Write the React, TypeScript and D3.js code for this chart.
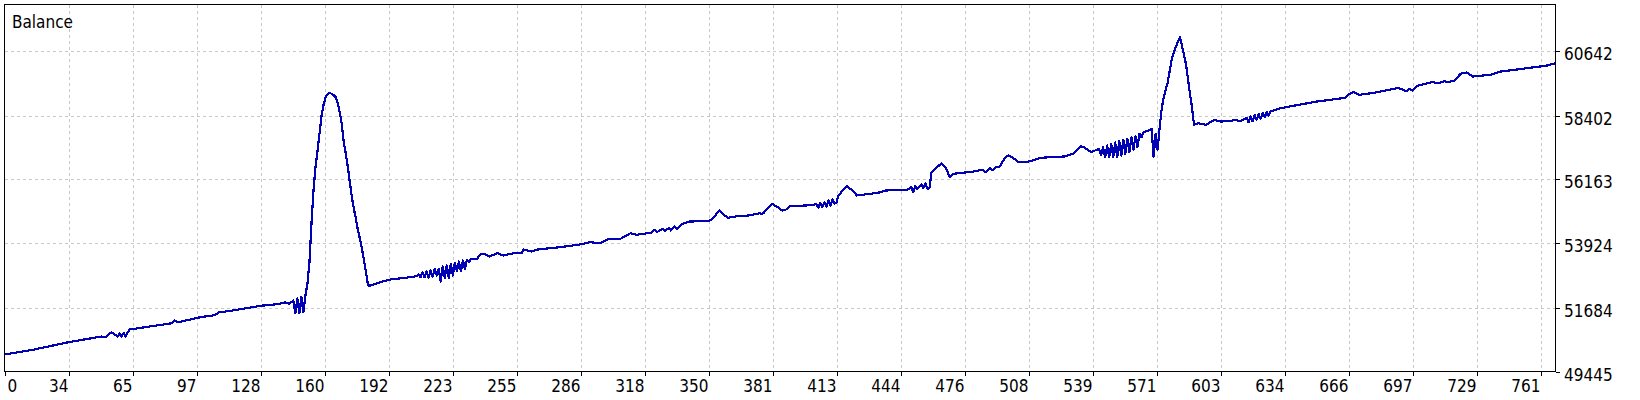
import React from 'react';
import * as d3 from 'd3';

// balance curve: trade number -> balance
const trades = [
  0, 14, 31, 48, 50, 53, 56, 57, 58, 59, 60, 61, 62, 72, 83, 84, 86, 97, 104, 106, 113, 127, 135,
  137, 139, 141, 143, 144, 145, 146, 147, 148, 149,
  150, 151, 152, 153, 154, 155, 156, 157, 158, 159, 160, 161, 162, 163, 164, 165, 166, 167, 168, 169,
  170, 171, 172, 173, 174, 175, 176, 177, 178, 179, 180, 181, 186, 191, 201, 204,
  205, 206, 207, 208, 209, 210, 211, 212, 213, 214, 215, 216, 217, 218, 219, 220, 221, 222, 223, 224,
  225, 226, 227, 228, 229, 230, 231, 234, 236, 238, 240, 244, 247, 252, 256, 257, 261, 264, 275, 285,
  290, 295, 299, 305, 308, 310, 313, 320, 322, 323, 326, 327, 329, 330, 332, 333, 335, 339, 348, 350,
  354, 358, 363, 368, 374, 375, 376, 378, 380, 383, 385, 387, 389, 400, 402, 403, 404, 405, 406, 407,
  408, 409, 410, 411, 412, 413, 415, 417, 420, 422, 431, 434, 436, 447, 449, 450, 451, 452, 454, 455,
  456, 457, 458, 459, 461, 464, 466, 468, 470, 480, 484, 486, 488, 489, 491, 493, 495, 497, 499, 502,
  505, 508, 513, 518, 525, 529, 531, 533, 535, 538, 540, 542, 543, 544, 545, 546, 547, 548, 549, 550,
  551, 552, 553, 554, 555, 556, 557, 558, 559, 560, 561, 562, 563, 564, 566, 568, 569, 570, 571, 572,
  573, 574, 576, 577, 578, 579, 581, 582, 583, 585, 586, 587, 588, 589, 591, 595, 599, 602, 607, 609,
  612, 615, 616, 617, 618, 619, 620, 621, 622, 623, 624, 625, 626, 627, 632, 639, 650, 664, 666, 668,
  671, 678, 688, 690, 692, 694, 696, 697, 700, 707, 710, 713, 715, 718, 721, 724, 727, 736, 741, 754,
  764, 768,
];

const balance = [
  50040, 50204, 50460, 50670, 50645, 50820, 50670, 50780, 50660, 50800, 50670, 50820, 50915, 51020, 51135, 51230, 51170, 51345, 51415, 51510, 51580, 51745, 51800,
  51830, 51860, 51815, 51930, 51485, 52000, 51485, 52045, 51520, 52105,
  52514, 53270, 54613, 55778, 56594, 57178, 57783, 58402, 58787, 59043, 59160, 59195, 59160, 59113, 59043, 58833, 58518, 58112, 57468, 57062,
  56594, 56069, 55544, 55138, 54788, 54379, 54088, 53738, 53329, 52919, 52454, 52454, 52570, 52664, 52745, 52780,
  52839, 52745, 52919, 52745, 52954, 52723, 52979, 52769, 53038, 52804, 53038, 52594, 53119, 52723, 53154, 52723, 53213, 52804, 53248, 52954,
  53294, 52954, 53329, 53038, 53353, 53270, 53375, 53390, 53563, 53539, 53469, 53584, 53504, 53584, 53584, 53714, 53644, 53714, 53794, 53889,
  53969, 53934, 54088, 54088, 54204, 54284, 54228, 54298, 54403, 54319, 54438, 54354, 54473, 54379, 54519, 54438, 54589, 54694, 54704, 54750,
  55078, 54823, 54879, 54900, 54984, 54963, 54998, 55173, 55313, 55194, 55078, 55113, 55229, 55264, 55313, 55173, 55348, 55194, 55369, 55218,
  55428, 55253, 55463, 55313, 55369, 55603, 55778, 55929, 55778, 55603, 55684, 55719, 55778, 55802, 55894, 55719, 55929, 55837, 55988, 55860,
  56034, 55837, 55860, 56419, 56538, 56734, 56594, 56244, 56363, 56443, 56502, 56419, 56572, 56478, 56594, 56618, 56887, 57003, 56943, 56769,
  56769, 56804, 56922, 56943, 56968, 57062, 57202, 57328, 57272, 57118, 57178, 57237, 57027, 57293, 56943, 57353, 56943, 57412, 56943, 57458,
  56943, 57503, 57003, 57552, 57062, 57587, 57118, 57643, 57202, 57668, 57293, 57762, 57643, 57818, 57860, 57937, 56968, 57762, 57202, 57993,
  58637, 59043, 59568, 59977, 60386, 60619, 60969, 61142, 60852, 60211, 59686, 59162, 58693, 58077, 58133, 58077, 58252, 58192, 58203, 58252,
  58203, 58322, 58168, 58367, 58203, 58427, 58252, 58462, 58287, 58497, 58343, 58518, 58402, 58553, 58658, 58752, 58892, 59022, 59162, 59218,
  59127, 59195, 59337, 59360, 59312, 59253, 59337, 59277, 59452, 59568, 59533, 59603, 59568, 59627, 59862, 59907, 59767, 59827, 59942, 60058,
  60152, 60232,
];

const xLabels = ['0', '34', '65', '97', '128', '160', '192', '223', '255', '286', '318', '350', '381', '413', '444', '476', '508', '539', '571', '603', '634', '666', '697', '729', '761'];
const yTicks = [49445, 51684, 53924, 56163, 58402, 60642];

const W = 1640;
const H = 400;
const left = 4.5;
const right = 1555.5;
const top = 4.5;
const bottom = 371.5;
const font = "Tahoma, 'DejaVu Sans Condensed', 'DejaVu Sans', sans-serif";

export default function App() {
  const x = d3.scaleLinear().domain([0, 768]).range([left, right]);
  const y = d3.scaleLinear().domain([49445, 62286]).range([bottom, top]);
  const xTick = d3.scalePoint<string>().domain(xLabels).range([x(0), x(761)]);

  const points: [number, number][] = trades.map((t, i) => [t, balance[i]]);
  const line = d3.line<[number, number]>()
    .x(d => x(d[0]))
    .y(d => y(d[1]));

  return (
    <svg width={W} height={H} style={{ position: 'absolute', left: 0, top: 0, background: '#fff' }}
      fontFamily={font} fontStretch="condensed">
      <rect x={0} y={0} width={W} height={H} fill="#fff" />

      {/* grid */}
      <g stroke="#c8c8c8" strokeDasharray="3,3" shapeRendering="crispEdges">
        {xLabels.slice(1).map(l => (
          <line key={l} x1={Math.round(xTick(l)!) + 0.5} x2={Math.round(xTick(l)!) + 0.5} y1={top} y2={bottom} />
        ))}
        {yTicks.slice(1).map(v => (
          <line key={v} x1={left} x2={right} y1={Math.round(y(v)) + 0.5} y2={Math.round(y(v)) + 0.5} />
        ))}
      </g>

      <path d={line(points) ?? ''} fill="none" stroke="#0000b4" strokeWidth={2.2}
        strokeLinejoin="round" shapeRendering="crispEdges" />

      {/* frame */}
      <rect x={left} y={top} width={right - left} height={bottom - top} fill="none" stroke="#000" shapeRendering="crispEdges" />

      {/* x axis */}
      <g fontSize={17} fill="#000">
        {xLabels.map((l, i) => {
          const px = Math.round(xTick(l)!) + 0.5;
          return (
            <g key={l}>
              <line x1={px} x2={px} y1={bottom} y2={bottom + 4} stroke="#000" shapeRendering="crispEdges" />
              <text x={i === 0 ? px + 2 : px - 1} y={392} textAnchor={i === 0 ? 'start' : 'end'}>{l}</text>
            </g>
          );
        })}
      </g>

      {/* y axis */}
      <g fontSize={17} fill="#000">
        {yTicks.map(v => {
          const py = Math.round(y(v)) + 0.5;
          return (
            <g key={v}>
              <line x1={right} x2={right + 4} y1={py} y2={py} stroke="#000" shapeRendering="crispEdges" />
              <text x={1564} y={py + 8}>{v}</text>
            </g>
          );
        })}
      </g>

      <text x={12} y={28} fontSize={17} fill="#000">Balance</text>
    </svg>
  );
}
